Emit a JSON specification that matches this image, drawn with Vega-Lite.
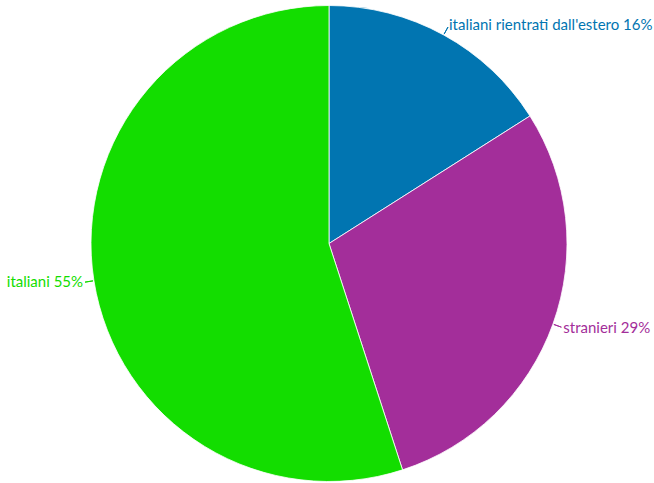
{
  "$schema": "https://vega.github.io/schema/vega-lite/v6.json",
  "autosize": {"type": "fit", "contains": "padding"},
  "width": 654,
  "height": 483,
  "padding": {"left": 4, "top": 4, "right": 0, "bottom": 0},
  "background": "white",
  "config": {"view": {"stroke": null}},
  "data": {
    "values": [
      {"label": "italiani rientrati dall'estero 16%", "cat": "rientrati", "start": 0, "end": 16, "mid": 8, "side": "right"},
      {"label": "stranieri 29%", "cat": "stranieri", "start": 16, "end": 45, "mid": 30.5, "side": "right"},
      {"label": "italiani 55%", "cat": "italiani", "start": 45, "end": 100, "mid": 72.5, "side": "left"}
    ]
  },
  "encoding": {
    "color": {
      "field": "cat",
      "type": "nominal",
      "scale": {"domain": ["rientrati", "stranieri", "italiani"], "range": ["#0175B1", "#A32E9A", "#13DD00"]},
      "legend": null
    }
  },
  "layer": [
    {
      "mark": {"type": "arc", "radius": 238, "stroke": "white", "strokeWidth": 0.8},
      "encoding": {
        "theta": {"field": "start", "type": "quantitative", "scale": {"domain": [0, 100], "range": [0, 6.283185307179586]}},
        "theta2": {"field": "end"}
      }
    },
    {
      "mark": {"type": "arc", "radius": 239, "radius2": 247, "strokeWidth": 1, "fill": null},
      "encoding": {
        "theta": {"field": "mid", "type": "quantitative", "scale": {"domain": [0, 100], "range": [0, 6.283185307179586]}},
        "theta2": {"field": "mid"},
        "stroke": {"field": "cat", "type": "nominal", "scale": {"domain": ["rientrati", "stranieri", "italiani"], "range": ["#0175B1", "#A32E9A", "#13DD00"]}, "legend": null}
      }
    },
    {
      "transform": [{"filter": "datum.side == 'right'"}],
      "mark": {"type": "text", "radius": 249, "align": "left", "baseline": "middle", "font": "Lato", "fontSize": 15},
      "encoding": {
        "theta": {"field": "mid", "type": "quantitative", "scale": {"domain": [0, 100], "range": [0, 6.283185307179586]}},
        "text": {"field": "label"}
      }
    },
    {
      "transform": [{"filter": "datum.side == 'left'"}],
      "mark": {"type": "text", "radius": 249, "align": "right", "baseline": "middle", "font": "Lato", "fontSize": 15},
      "encoding": {
        "theta": {"field": "mid", "type": "quantitative", "scale": {"domain": [0, 100], "range": [0, 6.283185307179586]}},
        "text": {"field": "label"}
      }
    }
  ]
}
